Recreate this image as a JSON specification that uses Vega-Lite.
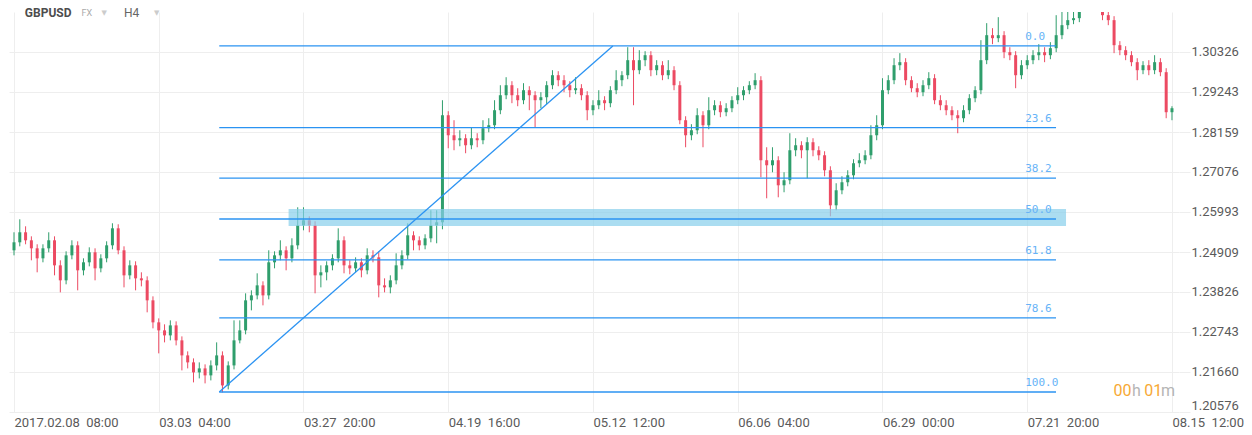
{
  "$schema": "https://vega.github.io/schema/vega-lite/v6.json",
  "width": 1170,
  "height": 400,
  "autosize": {"type": "none"},
  "padding": {"left": 9, "top": 12, "right": 73, "bottom": 23},
  "background": "#ffffff",
  "config": {
    "view": {"stroke": null},
    "font": "Roboto",
    "axis": {"title": null, "grid": true, "gridColor": "#eeeeee", "domain": false, "labelFont": "Roboto", "labelFontSize": 13, "labelColor": "#5a5a5a"},
    "axisX": {"ticks": false, "labelAlign": "left", "labelBaseline": "top", "labelPadding": 4, "labelFlush": false, "labelOverlap": false},
    "axisY": {"tickColor": "#eeeeee", "tickSize": 11, "labelPadding": 1, "labelFlush": true}
  },
  "datasets": {
    "candles": [
      {"b":0,"o":1.24955,"h":1.25443,"l":1.24819,"c":1.25172},
      {"b":4,"o":1.25172,"h":1.25795,"l":1.25063,"c":1.25443},
      {"b":8,"o":1.25443,"h":1.25605,"l":1.25118,"c":1.25226},
      {"b":12,"o":1.25226,"h":1.25334,"l":1.24684,"c":1.25009},
      {"b":16,"o":1.25009,"h":1.25118,"l":1.24359,"c":1.24738},
      {"b":20,"o":1.24738,"h":1.25118,"l":1.2463,"c":1.25009},
      {"b":24,"o":1.25009,"h":1.25443,"l":1.24901,"c":1.25226},
      {"b":28,"o":1.25226,"h":1.25334,"l":1.24277,"c":1.24548},
      {"b":32,"o":1.24548,"h":1.24684,"l":1.23817,"c":1.24142},
      {"b":36,"o":1.24142,"h":1.24928,"l":1.24034,"c":1.24819},
      {"b":40,"o":1.24819,"h":1.25226,"l":1.24711,"c":1.2509},
      {"b":44,"o":1.2509,"h":1.25199,"l":1.23871,"c":1.24413},
      {"b":48,"o":1.24413,"h":1.24738,"l":1.24277,"c":1.2463},
      {"b":52,"o":1.2463,"h":1.25036,"l":1.24521,"c":1.24901},
      {"b":56,"o":1.24901,"h":1.25009,"l":1.24142,"c":1.24467},
      {"b":60,"o":1.24467,"h":1.24847,"l":1.24359,"c":1.24738},
      {"b":64,"o":1.24738,"h":1.25199,"l":1.2463,"c":1.2509},
      {"b":68,"o":1.2509,"h":1.25687,"l":1.24982,"c":1.25551},
      {"b":72,"o":1.25551,"h":1.2566,"l":1.24847,"c":1.24955},
      {"b":76,"o":1.24955,"h":1.25063,"l":1.23952,"c":1.24277},
      {"b":80,"o":1.24277,"h":1.24684,"l":1.24169,"c":1.24548},
      {"b":84,"o":1.24548,"h":1.24657,"l":1.23871,"c":1.24196},
      {"b":88,"o":1.24196,"h":1.24359,"l":1.23979,"c":1.24142},
      {"b":92,"o":1.24142,"h":1.2425,"l":1.23275,"c":1.236},
      {"b":96,"o":1.236,"h":1.23708,"l":1.22841,"c":1.23004},
      {"b":100,"o":1.23004,"h":1.23112,"l":1.22164,"c":1.22787},
      {"b":104,"o":1.22787,"h":1.2295,"l":1.22462,"c":1.22651},
      {"b":108,"o":1.22651,"h":1.23058,"l":1.22516,"c":1.22922},
      {"b":112,"o":1.22922,"h":1.23031,"l":1.2238,"c":1.22516},
      {"b":116,"o":1.22516,"h":1.22624,"l":1.21703,"c":1.22109},
      {"b":120,"o":1.22109,"h":1.22218,"l":1.21757,"c":1.2192},
      {"b":124,"o":1.2192,"h":1.22028,"l":1.21378,"c":1.21649},
      {"b":128,"o":1.21649,"h":1.2192,"l":1.21486,"c":1.21757},
      {"b":132,"o":1.21757,"h":1.21866,"l":1.21351,"c":1.21568},
      {"b":136,"o":1.21568,"h":1.21974,"l":1.21432,"c":1.21838},
      {"b":140,"o":1.21838,"h":1.22462,"l":1.21703,"c":1.22109},
      {"b":144,"o":1.22109,"h":1.22218,"l":1.21107,"c":1.21296},
      {"b":148,"o":1.21296,"h":1.21947,"l":1.21188,"c":1.21838},
      {"b":152,"o":1.21838,"h":1.23058,"l":1.2173,"c":1.22516},
      {"b":156,"o":1.22516,"h":1.23058,"l":1.22435,"c":1.22787},
      {"b":160,"o":1.22787,"h":1.2379,"l":1.22679,"c":1.236},
      {"b":164,"o":1.236,"h":1.23871,"l":1.23329,"c":1.23735},
      {"b":168,"o":1.23735,"h":1.24332,"l":1.23627,"c":1.24006},
      {"b":172,"o":1.24006,"h":1.24115,"l":1.23464,"c":1.23735},
      {"b":176,"o":1.23735,"h":1.24955,"l":1.23627,"c":1.2463},
      {"b":180,"o":1.2463,"h":1.24928,"l":1.24467,"c":1.24819},
      {"b":184,"o":1.24819,"h":1.25226,"l":1.24684,"c":1.24955},
      {"b":188,"o":1.24955,"h":1.25063,"l":1.24413,"c":1.24738},
      {"b":192,"o":1.24738,"h":1.2528,"l":1.2463,"c":1.2509},
      {"b":196,"o":1.2509,"h":1.2612,"l":1.24982,"c":1.25632},
      {"b":200,"o":1.25632,"h":1.2612,"l":1.25497,"c":1.25768},
      {"b":204,"o":1.25768,"h":1.25876,"l":1.25443,"c":1.25632},
      {"b":208,"o":1.25632,"h":1.25741,"l":1.2379,"c":1.24277},
      {"b":212,"o":1.24277,"h":1.24548,"l":1.23952,"c":1.24359},
      {"b":216,"o":1.24359,"h":1.24657,"l":1.24142,"c":1.24548},
      {"b":220,"o":1.24548,"h":1.24847,"l":1.24413,"c":1.24738},
      {"b":224,"o":1.24738,"h":1.25551,"l":1.2463,"c":1.25226},
      {"b":228,"o":1.25226,"h":1.25334,"l":1.24332,"c":1.24548},
      {"b":232,"o":1.24548,"h":1.24684,"l":1.24305,"c":1.24467},
      {"b":236,"o":1.24467,"h":1.24765,"l":1.24359,"c":1.2463},
      {"b":240,"o":1.2463,"h":1.24738,"l":1.24223,"c":1.24413},
      {"b":244,"o":1.24413,"h":1.25009,"l":1.24305,"c":1.24819},
      {"b":248,"o":1.24819,"h":1.24955,"l":1.2463,"c":1.24765},
      {"b":252,"o":1.24765,"h":1.24928,"l":1.23681,"c":1.24006},
      {"b":256,"o":1.24006,"h":1.24196,"l":1.23817,"c":1.23952},
      {"b":260,"o":1.23952,"h":1.24277,"l":1.2379,"c":1.24142},
      {"b":264,"o":1.24142,"h":1.24874,"l":1.24034,"c":1.24548},
      {"b":268,"o":1.24548,"h":1.24955,"l":1.2444,"c":1.24819},
      {"b":272,"o":1.24819,"h":1.25687,"l":1.24711,"c":1.25361},
      {"b":276,"o":1.25361,"h":1.2547,"l":1.24955,"c":1.25226},
      {"b":280,"o":1.25226,"h":1.25334,"l":1.24955,"c":1.2509},
      {"b":284,"o":1.2509,"h":1.25389,"l":1.24982,"c":1.2528},
      {"b":288,"o":1.2528,"h":1.2604,"l":1.25172,"c":1.25632},
      {"b":292,"o":1.25632,"h":1.2604,"l":1.25145,"c":1.25714},
      {"b":296,"o":1.25714,"h":1.2902,"l":1.25524,"c":1.28613},
      {"b":300,"o":1.28613,"h":1.28722,"l":1.27719,"c":1.28071},
      {"b":304,"o":1.28071,"h":1.28478,"l":1.27665,"c":1.27936},
      {"b":308,"o":1.27936,"h":1.28207,"l":1.27773,"c":1.2799},
      {"b":312,"o":1.2799,"h":1.28099,"l":1.27584,"c":1.278},
      {"b":316,"o":1.278,"h":1.28288,"l":1.27692,"c":1.2799},
      {"b":320,"o":1.2799,"h":1.28126,"l":1.27746,"c":1.27936},
      {"b":324,"o":1.27936,"h":1.28478,"l":1.27828,"c":1.28261},
      {"b":328,"o":1.28261,"h":1.28532,"l":1.28153,"c":1.28342},
      {"b":332,"o":1.28342,"h":1.2902,"l":1.28234,"c":1.28749},
      {"b":336,"o":1.28749,"h":1.29426,"l":1.28641,"c":1.29155},
      {"b":340,"o":1.29155,"h":1.29643,"l":1.29047,"c":1.29426},
      {"b":344,"o":1.29426,"h":1.29535,"l":1.28939,"c":1.29155},
      {"b":348,"o":1.29155,"h":1.29345,"l":1.28857,"c":1.2902},
      {"b":352,"o":1.2902,"h":1.29481,"l":1.28912,"c":1.29291},
      {"b":356,"o":1.29291,"h":1.29399,"l":1.28749,"c":1.29155},
      {"b":360,"o":1.29155,"h":1.29264,"l":1.28288,"c":1.2902},
      {"b":364,"o":1.2902,"h":1.29237,"l":1.28803,"c":1.29101},
      {"b":368,"o":1.29101,"h":1.29535,"l":1.28912,"c":1.29426},
      {"b":372,"o":1.29426,"h":1.29833,"l":1.29318,"c":1.29697},
      {"b":376,"o":1.29697,"h":1.29806,"l":1.29399,"c":1.29562},
      {"b":380,"o":1.29562,"h":1.29697,"l":1.29237,"c":1.29426},
      {"b":384,"o":1.29426,"h":1.29535,"l":1.29101,"c":1.29291},
      {"b":388,"o":1.29291,"h":1.29643,"l":1.29183,"c":1.29345},
      {"b":392,"o":1.29345,"h":1.29454,"l":1.2902,"c":1.29155},
      {"b":396,"o":1.29155,"h":1.29264,"l":1.28478,"c":1.28749},
      {"b":400,"o":1.28749,"h":1.2902,"l":1.28613,"c":1.28884},
      {"b":404,"o":1.28884,"h":1.29291,"l":1.28776,"c":1.2902},
      {"b":408,"o":1.2902,"h":1.29128,"l":1.28749,"c":1.28939},
      {"b":412,"o":1.28939,"h":1.29399,"l":1.2883,"c":1.29291},
      {"b":416,"o":1.29291,"h":1.29833,"l":1.29183,"c":1.29562},
      {"b":420,"o":1.29562,"h":1.29806,"l":1.29399,"c":1.29697},
      {"b":424,"o":1.29697,"h":1.30456,"l":1.29589,"c":1.30104},
      {"b":428,"o":1.30104,"h":1.30456,"l":1.28884,"c":1.29833},
      {"b":432,"o":1.29833,"h":1.30375,"l":1.29725,"c":1.30104},
      {"b":436,"o":1.30104,"h":1.30348,"l":1.29941,"c":1.30239},
      {"b":440,"o":1.30239,"h":1.30348,"l":1.2967,"c":1.29833},
      {"b":444,"o":1.29833,"h":1.30104,"l":1.29697,"c":1.29968},
      {"b":448,"o":1.29968,"h":1.30077,"l":1.29562,"c":1.29697},
      {"b":452,"o":1.29697,"h":1.30104,"l":1.29589,"c":1.29833},
      {"b":456,"o":1.29833,"h":1.29941,"l":1.29291,"c":1.29426},
      {"b":460,"o":1.29426,"h":1.29535,"l":1.2837,"c":1.28478},
      {"b":464,"o":1.28478,"h":1.28586,"l":1.27746,"c":1.28071},
      {"b":468,"o":1.28071,"h":1.2837,"l":1.27936,"c":1.28207},
      {"b":472,"o":1.28207,"h":1.28803,"l":1.28099,"c":1.28613},
      {"b":476,"o":1.28613,"h":1.28722,"l":1.27746,"c":1.28342},
      {"b":480,"o":1.28342,"h":1.29101,"l":1.28234,"c":1.28749},
      {"b":484,"o":1.28749,"h":1.2902,"l":1.28613,"c":1.28884},
      {"b":488,"o":1.28884,"h":1.28993,"l":1.28559,"c":1.28695},
      {"b":492,"o":1.28695,"h":1.28939,"l":1.28586,"c":1.28803},
      {"b":496,"o":1.28803,"h":1.29128,"l":1.28695,"c":1.2902},
      {"b":500,"o":1.2902,"h":1.29372,"l":1.28912,"c":1.29155},
      {"b":504,"o":1.29155,"h":1.29399,"l":1.2902,"c":1.29291},
      {"b":508,"o":1.29291,"h":1.29535,"l":1.29183,"c":1.29426},
      {"b":512,"o":1.29426,"h":1.29752,"l":1.29318,"c":1.29562},
      {"b":516,"o":1.29562,"h":1.2967,"l":1.26933,"c":1.27394},
      {"b":520,"o":1.27394,"h":1.27746,"l":1.26364,"c":1.27258},
      {"b":524,"o":1.27258,"h":1.27746,"l":1.27069,"c":1.27394},
      {"b":528,"o":1.27394,"h":1.27502,"l":1.26391,"c":1.26716},
      {"b":532,"o":1.26716,"h":1.27069,"l":1.26527,"c":1.26852},
      {"b":536,"o":1.26852,"h":1.28126,"l":1.26744,"c":1.27665},
      {"b":540,"o":1.27665,"h":1.2799,"l":1.27502,"c":1.278},
      {"b":544,"o":1.278,"h":1.27909,"l":1.27448,"c":1.27665},
      {"b":548,"o":1.27665,"h":1.28017,"l":1.26906,"c":1.27882},
      {"b":552,"o":1.27882,"h":1.2799,"l":1.27502,"c":1.27665},
      {"b":556,"o":1.27665,"h":1.27773,"l":1.27394,"c":1.27529},
      {"b":560,"o":1.27529,"h":1.27638,"l":1.2696,"c":1.27123},
      {"b":564,"o":1.27123,"h":1.27231,"l":1.25876,"c":1.26174},
      {"b":568,"o":1.26174,"h":1.26771,"l":1.2604,"c":1.26581},
      {"b":572,"o":1.26581,"h":1.2696,"l":1.26473,"c":1.26798},
      {"b":576,"o":1.26798,"h":1.27123,"l":1.26689,"c":1.26987},
      {"b":580,"o":1.26987,"h":1.27421,"l":1.26879,"c":1.27313},
      {"b":584,"o":1.27313,"h":1.27584,"l":1.27204,"c":1.27394},
      {"b":588,"o":1.27394,"h":1.27665,"l":1.27286,"c":1.27529},
      {"b":592,"o":1.27529,"h":1.28342,"l":1.27421,"c":1.28071},
      {"b":596,"o":1.28071,"h":1.28613,"l":1.27936,"c":1.28342},
      {"b":600,"o":1.28342,"h":1.29616,"l":1.28234,"c":1.29291},
      {"b":604,"o":1.29291,"h":1.29697,"l":1.29183,"c":1.29562},
      {"b":608,"o":1.29562,"h":1.30158,"l":1.29454,"c":1.29968},
      {"b":612,"o":1.29968,"h":1.30294,"l":1.29833,"c":1.3005},
      {"b":616,"o":1.3005,"h":1.30158,"l":1.29426,"c":1.29562},
      {"b":620,"o":1.29562,"h":1.2967,"l":1.29237,"c":1.29345},
      {"b":624,"o":1.29345,"h":1.29481,"l":1.29101,"c":1.29237},
      {"b":628,"o":1.29237,"h":1.29562,"l":1.29128,"c":1.29426},
      {"b":632,"o":1.29426,"h":1.29779,"l":1.29318,"c":1.29616},
      {"b":636,"o":1.29616,"h":1.29725,"l":1.28912,"c":1.2902},
      {"b":640,"o":1.2902,"h":1.29155,"l":1.28749,"c":1.28884},
      {"b":644,"o":1.28884,"h":1.2902,"l":1.28613,"c":1.28749},
      {"b":648,"o":1.28749,"h":1.28857,"l":1.28478,"c":1.28613},
      {"b":652,"o":1.28613,"h":1.28749,"l":1.28126,"c":1.28532},
      {"b":656,"o":1.28532,"h":1.28884,"l":1.28424,"c":1.28749},
      {"b":660,"o":1.28749,"h":1.29183,"l":1.28641,"c":1.29074},
      {"b":664,"o":1.29074,"h":1.29399,"l":1.28966,"c":1.29291},
      {"b":668,"o":1.29291,"h":1.30646,"l":1.29183,"c":1.30104},
      {"b":672,"o":1.30104,"h":1.31107,"l":1.29996,"c":1.30781},
      {"b":676,"o":1.30781,"h":1.30971,"l":1.30538,"c":1.307},
      {"b":680,"o":1.307,"h":1.31269,"l":1.30592,"c":1.30781},
      {"b":684,"o":1.30781,"h":1.3089,"l":1.30158,"c":1.30321},
      {"b":688,"o":1.30321,"h":1.30456,"l":1.30104,"c":1.30239},
      {"b":692,"o":1.30239,"h":1.30348,"l":1.29345,"c":1.29697},
      {"b":696,"o":1.29697,"h":1.30104,"l":1.29589,"c":1.29968},
      {"b":700,"o":1.29968,"h":1.30239,"l":1.2986,"c":1.30104},
      {"b":704,"o":1.30104,"h":1.30375,"l":1.29996,"c":1.30239},
      {"b":708,"o":1.30239,"h":1.30538,"l":1.30104,"c":1.30321},
      {"b":712,"o":1.30321,"h":1.30456,"l":1.3005,"c":1.30239},
      {"b":716,"o":1.30239,"h":1.30592,"l":1.30131,"c":1.30429},
      {"b":720,"o":1.30429,"h":1.31323,"l":1.30321,"c":1.30781},
      {"b":724,"o":1.30781,"h":1.31513,"l":1.30673,"c":1.31052},
      {"b":728,"o":1.31052,"h":1.31594,"l":1.30944,"c":1.31188},
      {"b":732,"o":1.31188,"h":1.31513,"l":1.3108,"c":1.31242},
      {"b":736,"o":1.31242,"h":1.3173,"l":1.31134,"c":1.31594},
      {"b":740,"o":1.31594,"h":1.32055,"l":1.31486,"c":1.31866},
      {"b":744,"o":1.31866,"h":1.32218,"l":1.31757,"c":1.32001},
      {"b":748,"o":1.32001,"h":1.32109,"l":1.31757,"c":1.31866},
      {"b":752,"o":1.31866,"h":1.31974,"l":1.31188,"c":1.31323},
      {"b":756,"o":1.31323,"h":1.31459,"l":1.31052,"c":1.31188},
      {"b":760,"o":1.31188,"h":1.31296,"l":1.30294,"c":1.3051},
      {"b":764,"o":1.3051,"h":1.30619,"l":1.30239,"c":1.30375},
      {"b":768,"o":1.30375,"h":1.30483,"l":1.30104,"c":1.30239},
      {"b":772,"o":1.30239,"h":1.30348,"l":1.29941,"c":1.3005},
      {"b":776,"o":1.3005,"h":1.30158,"l":1.29562,"c":1.29833},
      {"b":780,"o":1.29833,"h":1.30077,"l":1.29725,"c":1.29968},
      {"b":784,"o":1.29968,"h":1.30104,"l":1.29697,"c":1.29833},
      {"b":788,"o":1.29833,"h":1.30239,"l":1.29725,"c":1.3005},
      {"b":792,"o":1.3005,"h":1.30158,"l":1.2967,"c":1.29779},
      {"b":796,"o":1.29779,"h":1.29887,"l":1.28532,"c":1.28695},
      {"b":800,"o":1.28695,"h":1.28857,"l":1.28478,"c":1.28803}
    ],
    "levels": [
      {"level":"0.0","p":1.30489,"b":141.8,"b2":719.9,"lb":698.6},
      {"level":"23.6","p":1.28277,"b":141.8,"b2":719.9,"lb":698.6},
      {"level":"38.2","p":1.26909,"b":141.8,"b2":719.9,"lb":698.6},
      {"level":"50.0","p":1.25803,"b":141.8,"b2":719.9,"lb":698.6},
      {"level":"61.8","p":1.24697,"b":141.8,"b2":719.9,"lb":698.6},
      {"level":"78.6","p":1.23123,"b":141.8,"b2":719.9,"lb":698.6},
      {"level":"100.0","p":1.21117,"b":141.8,"b2":719.9,"lb":698.6}
    ],
    "trend": [
      {"b":141.8,"p":1.21117},
      {"b":413.7,"p":1.30489}
    ],
    "zone": [
      {"b":189.7,"b2":726.8,"p":1.25613,"p2":1.26074}
    ],
    "labels": [
      {"t":"00","b":759.6,"p":1.21145,"part":"num"},
      {"t":"h","b":772.3,"p":1.21145,"part":"unit"},
      {"t":"01","b":780.9,"p":1.21145,"part":"num"},
      {"t":"m","b":792.5,"p":1.21145,"part":"unit"}
    ]
  },
  "encoding": {
    "x": {"field": "b", "type": "quantitative",
      "scale": {"domain": [0, 801.4], "nice": false, "zero": false},
      "axis": {
        "values": [0,100,200,300,400,500,600,700,800],
        "labelExpr": "datum.value==0?'2017.02.08\u00a0\u00a008:00':datum.value==100?'03.03\u00a0\u00a004:00':datum.value==200?'03.27\u00a0\u00a020:00':datum.value==300?'04.19\u00a0\u00a016:00':datum.value==400?'05.12\u00a0\u00a012:00':datum.value==500?'06.06\u00a0\u00a004:00':datum.value==600?'06.29\u00a0\u00a000:00':datum.value==700?'07.21\u00a0\u00a020:00':'08.15\u00a0\u00a012:00'"
      }
    },
    "y": {"field": "p", "type": "quantitative",
      "scale": {"domain": [1.20576, 1.31409], "nice": false, "zero": false},
      "axis": {"orient": "right", "format": ".5f",
        "values": [1.20576,1.2166,1.22743,1.23826,1.24909,1.25993,1.27076,1.28159,1.29243,1.30326]}
    }
  },
  "layer": [
    {
      "data": {"name": "candles"},
      "mark": {"type": "rule", "clip": true, "strokeWidth": 1},
      "encoding": {
        "y": {"field": "l", "type": "quantitative",
          "scale": {"domain": [1.20576, 1.31409], "nice": false, "zero": false},
          "axis": {"orient": "right", "format": ".5f",
            "values": [1.20576,1.2166,1.22743,1.23826,1.24909,1.25993,1.27076,1.28159,1.29243,1.30326]}
        },
        "y2": {"field": "h"},
        "color": {"condition": {"test": "datum.c >= datum.o", "value": "#2f9e6c"}, "value": "#ec4a62"}
      }
    },
    {
      "data": {"name": "candles"},
      "mark": {"type": "bar", "clip": true, "size": 3},
      "encoding": {
        "y": {"field": "o", "type": "quantitative",
          "scale": {"domain": [1.20576, 1.31409], "nice": false, "zero": false},
          "axis": {"orient": "right", "format": ".5f",
            "values": [1.20576,1.2166,1.22743,1.23826,1.24909,1.25993,1.27076,1.28159,1.29243,1.30326]}
        },
        "y2": {"field": "c"},
        "color": {"condition": {"test": "datum.c >= datum.o", "value": "#2f9e6c"}, "value": "#ec4a62"}
      }
    },
    {
      "data": {"name": "zone"},
      "mark": {"type": "rect", "color": "#87ceeb", "opacity": 0.7},
      "encoding": {
        "x2": {"field": "b2"},
        "y2": {"field": "p2"}
      }
    },
    {
      "data": {"name": "levels"},
      "mark": {"type": "rule", "color": "#2b93f2", "strokeWidth": 1.3},
      "encoding": {
        "x2": {"field": "b2"}
      }
    },
    {
      "data": {"name": "trend"},
      "mark": {"type": "line", "color": "#2b93f2", "strokeWidth": 1.3},
      "encoding": {}
    },
    {
      "data": {"name": "levels"},
      "mark": {"type": "text", "align": "left", "baseline": "middle", "dy": -9, "font": "DejaVu Sans Mono", "fontSize": 11, "color": "#66b3f7"},
      "encoding": {
        "x": {"field": "lb", "type": "quantitative",
          "scale": {"domain": [0, 801.4], "nice": false, "zero": false},
          "axis": {
            "values": [0,100,200,300,400,500,600,700,800],
            "labelExpr": "datum.value==0?'2017.02.08\u00a0\u00a008:00':datum.value==100?'03.03\u00a0\u00a004:00':datum.value==200?'03.27\u00a0\u00a020:00':datum.value==300?'04.19\u00a0\u00a016:00':datum.value==400?'05.12\u00a0\u00a012:00':datum.value==500?'06.06\u00a0\u00a004:00':datum.value==600?'06.29\u00a0\u00a000:00':datum.value==700?'07.21\u00a0\u00a020:00':'08.15\u00a0\u00a012:00'"
          }
        },
        "text": {"field": "level"}
      }
    },
    {
      "data": {"name": "labels"},
      "mark": {"type": "text", "align": "left", "baseline": "middle", "font": "Roboto", "fontSize": 16},
      "encoding": {
        "text": {"field": "t"},
        "color": {"field": "part", "type": "nominal", "scale": {"domain": ["num", "unit"], "range": ["#f7a934", "#b5b5b5"]}, "legend": null}
      }
    },
    {
      "data": {"values": [{"t": "GBPUSD", "b": 7.5, "p": 1.31382}]},
      "mark": {"type": "text", "align": "left", "baseline": "middle", "font": "Roboto", "fontSize": 12, "fontWeight": "bold", "color": "#4d4d4d"},
      "encoding": {"text": {"field": "t"}}
    },
    {
      "data": {"values": [{"t": "FX", "b": 46.6, "p": 1.31382}]},
      "mark": {"type": "text", "align": "left", "baseline": "middle", "font": "Roboto", "fontSize": 9, "color": "#aaaaaa"},
      "encoding": {"text": {"field": "t"}}
    },
    {
      "data": {"values": [{"t": "H4", "b": 76.0, "p": 1.31382}]},
      "mark": {"type": "text", "align": "left", "baseline": "middle", "font": "Roboto", "fontSize": 12, "color": "#666666"},
      "encoding": {"text": {"field": "t"}}
    },
    {
      "data": {"values": [{"t": "▼", "b": 62.3, "p": 1.31382}, {"t": "▼", "b": 98.6, "p": 1.31382}]},
      "mark": {"type": "text", "align": "center", "baseline": "middle", "font": "DejaVu Sans", "fontSize": 7, "color": "#cccccc"},
      "encoding": {"text": {"field": "t"}}
    }
  ]
}
